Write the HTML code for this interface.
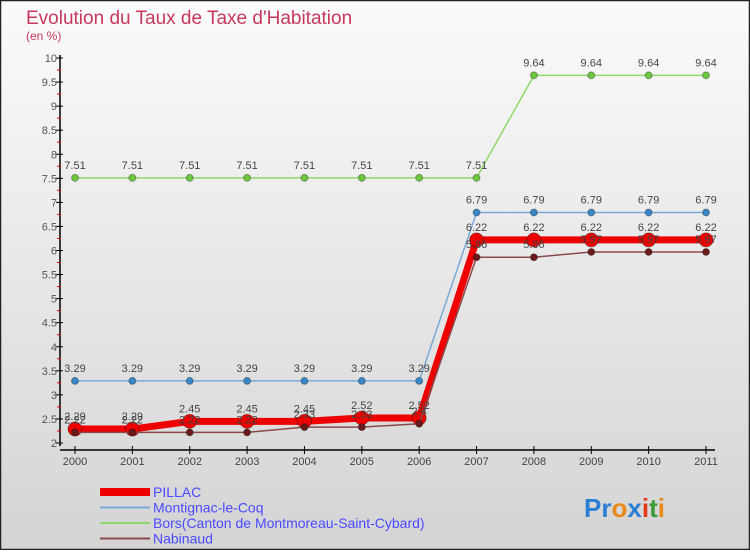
<!DOCTYPE html>
<html><head><meta charset="utf-8"><style>
body{margin:0;}
svg text{font-family:"Liberation Sans",sans-serif;}
</style></head><body>
<svg id="c" width="750" height="550" xmlns="http://www.w3.org/2000/svg">
<defs>
<linearGradient id="bg" x1="0" y1="0" x2="0" y2="1"><stop offset="0" stop-color="#fbfbfb"/><stop offset="1" stop-color="#d4d4d4"/></linearGradient>
</defs>
<rect x="0.5" y="0.5" width="749" height="549" fill="url(#bg)" stroke="#222" stroke-width="1.5"/>
<text x="26" y="24" font-size="19" fill="#c8385e">Evolution du Taux de Taxe d'Habitation</text>
<text x="26" y="40" font-size="12" fill="#c8385e">(en %)</text>
<g id="axes"></g><g id="series"></g><g id="legend"></g>
<text x="584" y="517" font-size="26" font-weight="bold"><tspan fill="#2a7fd4">Pr</tspan><tspan fill="#e88a1a">o</tspan><tspan fill="#2a7fd4">x</tspan><tspan fill="#e03a1a">i</tspan><tspan fill="#3a9a3a">t</tspan><tspan fill="#e88a1a">i</tspan></text>
</svg>
<script>
const years=[2000,2001,2002,2003,2004,2005,2006,2007,2008,2009,2010,2011];
const yTicks=[2,2.5,3,3.5,4,4.5,5,5.5,6,6.5,7,7.5,8,8.5,9,9.5,10];
const pillac=[2.29,2.29,2.45,2.45,2.45,2.52,2.52,6.22,6.22,6.22,6.22,6.22];
const montignac=[3.29,3.29,3.29,3.29,3.29,3.29,3.29,6.79,6.79,6.79,6.79,6.79];
const bors=[7.51,7.51,7.51,7.51,7.51,7.51,7.51,7.51,9.64,9.64,9.64,9.64];
const nabinaud=[2.22,2.22,2.22,2.22,2.33,2.33,2.4,5.86,5.86,5.97,5.97,5.97];
const names=["PILLAC","Montignac-le-Coq","Bors(Canton de Montmoreau-Saint-Cybard)","Nabinaud"];
const NS="http://www.w3.org/2000/svg";
const X=i=>75+i*(706-75)/(years.length-1);
const Y=v=>443-(v-2)*(443-58)/8;
function mk(p,t,a){const e=document.createElementNS(NS,t);for(const k in a)e.setAttribute(k,a[k]);p.appendChild(e);return e;}
const ax=document.getElementById('axes');
let l=mk(ax,'line',{x1:60,y1:55,x2:60,y2:446,stroke:'#000','stroke-width':1.5});


l=mk(ax,'line',{x1:60,y1:450,x2:715,y2:450,stroke:'#000','stroke-width':1.5});


yTicks.forEach((v,k)=>{const y=Y(v);mk(ax,'line',{x1:56,y1:y,x2:63,y2:y,stroke:'#000'});
if(k>0)mk(ax,'line',{x1:57,y1:y+12,x2:61,y2:y+12,stroke:'#d00'});
const t=mk(ax,'text',{x:57,y:y+4,'font-size':11,fill:'#555','text-anchor':'end'});t.textContent=String(v);

});
years.forEach((yr,i)=>{mk(ax,'line',{x1:X(i),y1:446,x2:X(i),y2:454,stroke:'#000'});
const t=mk(ax,'text',{x:X(i),y:465,'font-size':11,fill:'#444','text-anchor':'middle'});t.textContent=yr;

});
const sg=document.getElementById('series');
function series(vals,color,w,r,dot,name){
const g=mk(sg,'g',{});


mk(g,'polyline',{points:vals.map((v,i)=>X(i)+','+Y(v)).join(' '),fill:'none',stroke:color,'stroke-width':w,'stroke-linejoin':'round'});
vals.forEach((v,i)=>{const c=mk(g,'circle',{cx:X(i),cy:Y(v),r:r,fill:dot,stroke:'rgba(0,0,0,0.3)'});


const t=mk(g,'text',{x:X(i),y:Y(v)-9,'font-size':11,fill:'#444','text-anchor':'middle'});t.textContent=String(v);

});}
series(bors,'#8fd96a',1.5,3.5,'#6cc640','series-bors');
series(montignac,'#7aaad8',1.5,3.5,'#3a86c6','series-montignac');
series(pillac,'#ee0000',7,7,'#ee0000','series-pillac');
series(nabinaud,'#8a4a4a',1.5,3.5,'#6a1a1a','series-nabinaud');
const lg=document.getElementById('legend');
const lc=[['#ee0000',8],['#7aaad8',2],['#8fd96a',2],['#8a4a4a',2]];
names.forEach((n,i)=>{const y=492+i*15.5;
const g=mk(lg,'g',{});


mk(g,'line',{x1:100,y1:y,x2:150,y2:y,stroke:lc[i][0],'stroke-width':lc[i][1]});
const t=mk(g,'text',{x:153,y:y+5,'font-size':14,fill:'#4a4aff'});t.textContent=n;});
</script>
</body></html>
